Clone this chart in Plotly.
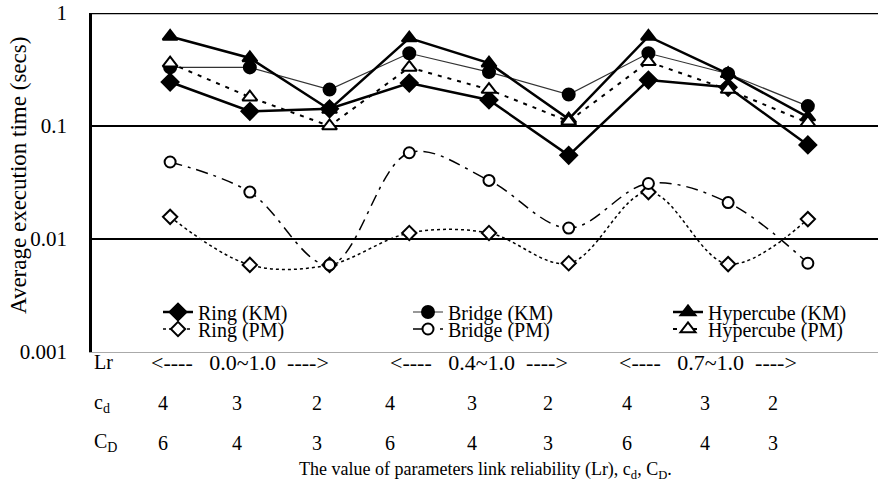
import plotly.graph_objects as go

# ---- data ----
x_idx = [0, 1, 2, 3, 4, 5, 6, 7, 8]
lr_groups = ["0.0~1.0", "0.4~1.0", "0.7~1.0"]
cd_vals = ["4", "3", "2", "4", "3", "2", "4", "3", "2"]
CD_vals = ["6", "4", "3", "6", "4", "3", "6", "4", "3"]

ring_km = [0.245, 0.135, 0.142, 0.24, 0.17, 0.055, 0.255, 0.22, 0.068]
bridge_km = [0.33, 0.33, 0.21, 0.44, 0.30, 0.19, 0.44, 0.29, 0.15]
hyper_km = [0.62, 0.40, 0.14, 0.60, 0.36, 0.115, 0.62, 0.29, 0.12]
ring_pm = [0.0157, 0.0059, 0.0059, 0.0113, 0.0113, 0.0061, 0.026, 0.006, 0.015]
bridge_pm = [0.048, 0.026, 0.0059, 0.058, 0.033, 0.0125, 0.031, 0.021, 0.0061]
hyper_pm = [0.36, 0.18, 0.10, 0.33, 0.21, 0.11, 0.37, 0.21, 0.107]

FONT = "Liberation Serif"
NB = "\u00a0"

fig = go.Figure()

def add(name, y, symbol, filled, dash, width, color, legend, shape="linear", size=12):
    fig.add_trace(go.Scatter(
        x=x_idx, y=y, name=name, mode="lines+markers",
        line=dict(color=color, width=width, dash=dash, shape=shape),
        marker=dict(symbol=symbol, size=size,
                    color="black" if filled else "white",
                    line=dict(color="black", width=2)),
        legend=legend,
    ))

add("Ring (KM)", ring_km, "diamond", True, "solid", 2.5, "black", "legend", size=13)
add("Ring (PM)", ring_pm, "diamond", False, "dot", 1.5, "black", "legend4", shape="spline", size=11)
add("Bridge (KM)", bridge_km, "circle", True, "solid", 1.2, "#333333", "legend2", size=12)
add("Bridge (PM)", bridge_pm, "circle", False, "12px,6px,3px,6px", 1.5, "black", "legend5", shape="spline", size=11)
add("Hypercube (KM)", hyper_km, "triangle-up", True, "solid", 2.5, "black", "legend3", size=13)
add("Hypercube (PM)", hyper_pm, "triangle-up", False, "4px,6px", 2, "black", "legend6", size=13)

# layout geometry (pixels)
L, T, W_, H_ = 92, 13, 878, 483
B = 352
pw, ph = W_ - L, B - T

def px(xp):
    return (xp - L) / pw

def py(yp):
    return (B - yp) / ph

TXT = 20
annotations = []
row_y = {"Lr": 362, "cd": 403, "CD": 443}
annotations.append(dict(text="Lr", x=px(92), y=py(row_y["Lr"]), xanchor="left", yanchor="middle"))
annotations.append(dict(text="c<sub>d</sub>", x=px(92), y=py(row_y["cd"]), xanchor="left", yanchor="middle"))
annotations.append(dict(text="C<sub>D</sub>", x=px(92), y=py(row_y["CD"]), xanchor="left", yanchor="middle"))
lr_x = [240, 479, 708]
for t, xp in zip(lr_groups, lr_x):
    label = "&lt;----" + NB * 3 + t + NB * 2 + "----&gt;"
    annotations.append(dict(text=label, x=px(xp), y=py(row_y["Lr"]), xanchor="center", yanchor="middle",
                            font=dict(family=FONT, size=22, color="black")))
col_x = [163, 237, 317, 390, 472, 548, 627, 705, 773]
for c, d, xp in zip(cd_vals, CD_vals, col_x):
    annotations.append(dict(text=c, x=px(xp), y=py(row_y["cd"]), xanchor="center", yanchor="middle"))
    annotations.append(dict(text=d, x=px(xp), y=py(row_y["CD"]), xanchor="center", yanchor="middle"))
for a in annotations:
    if "font" not in a:
        a.update(font=dict(family=FONT, size=TXT, color="black"))
annotations.append(dict(text="The value of parameters link reliability (Lr), c<sub>d</sub>, C<sub>D</sub>.",
                        x=px(485), y=py(470), xanchor="center", yanchor="middle",
                        font=dict(family=FONT, size=18, color="black")))
annotations.append(dict(text="Average execution time (secs)", textangle=-90,
                        x=px(18), y=py(176), xanchor="center", yanchor="middle",
                        font=dict(family=FONT, size=23, color="black")))
for a in annotations:
    a.update(xref="paper", yref="paper", showarrow=False)

shapes = [
    dict(type="line", xref="paper", yref="y", x0=0, x1=1, y0=1, y1=1, line=dict(color="black", width=2.5)),
]

leg_common = dict(orientation="v", yanchor="middle", xanchor="left", bgcolor="rgba(0,0,0,0)",
                  font=dict(family=FONT, size=TXT, color="black"), tracegroupgap=0,
                  itemwidth=30, borderwidth=0)

fig.update_layout(
    width=W_, height=H_,
    margin=dict(l=L, r=0, t=T, b=H_ - B, pad=0),
    paper_bgcolor="white", plot_bgcolor="white",
    font=dict(family=FONT, size=TXT, color="black"),
    xaxis=dict(range=[-0.98, 8.88], showticklabels=False, showgrid=False, zeroline=False,
               showline=True, linecolor="#aaaaaa", linewidth=1, ticks=""),
    yaxis=dict(type="log", range=[-3, 0], tickvals=[0.001, 0.01, 0.1, 1],
               ticktext=["0.001", "0.01", "0.1", "1"], showgrid=True, gridcolor="black",
               gridwidth=2, showline=True, linecolor="black", linewidth=2.5, ticks="",
               ticklabelstandoff=18, tickfont=dict(family=FONT, size=21, color="black")),
    legend=dict(x=px(158), y=py(312), **leg_common),
    legend2=dict(x=px(408), y=py(312), **leg_common),
    legend3=dict(x=px(668), y=py(312), **leg_common),
    legend4=dict(x=px(158), y=py(329), **leg_common),
    legend5=dict(x=px(408), y=py(329), **leg_common),
    legend6=dict(x=px(668), y=py(329), **leg_common),
    annotations=annotations,
    shapes=shapes,
    showlegend=True,
)

fig.write_html("out.html")
